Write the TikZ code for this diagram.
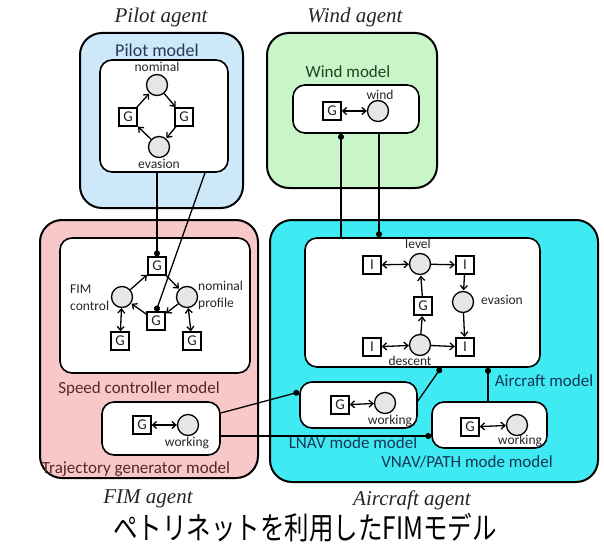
\documentclass[tikz,border=0pt]{standalone}
\usepackage{fontspec}
\setmainfont{Carlito}
\newfontfamily\titlefont{Liberation Serif}
\newfontfamily\jpfont{Noto Sans CJK JP}
\usetikzlibrary{arrows.meta}
\definecolor{pilotfill}{HTML}{CDE8F8}
\definecolor{windfill}{HTML}{C8F6C8}
\definecolor{fimfill}{HTML}{F8C8C8}
\definecolor{acfill}{HTML}{40EAF2}
\definecolor{pilottxt}{HTML}{243858}
\definecolor{windtxt}{HTML}{1F421F}
\definecolor{fimtxt}{HTML}{532828}
\definecolor{actxt}{HTML}{153655}
\definecolor{placefill}{HTML}{E6E6E6}
\begin{document}
\begin{tikzpicture}[x=1pt,y=-1pt,
  agentbox/.style={draw, line width=2pt, rounded corners=22pt, inner sep=0},
  modelbox/.style={draw, fill=white, line width=1.6pt, rounded corners=12pt, inner sep=0},
  place/.style={circle, draw, fill=placefill, minimum size=21pt, inner sep=0, line width=1.3pt},
  trans/.style={rectangle, draw, fill=white, minimum size=18pt, inner sep=0, line width=1.3pt, font=\fontsize{15}{15}\selectfont, text=black!85},
  arc/.style={line width=1.3pt, -{Straight Barb[length=4pt,width=7pt]}, shorten >=0.5pt},
  darc/.style={line width=1.3pt, {Straight Barb[length=4pt,width=7pt]}-{Straight Barb[length=4pt,width=7pt]}},
  link/.style={line width=1.3pt},
  dotend/.style={-{Circle[length=6pt]}},
  dotstart/.style={{Circle[length=6pt]}-},
  small/.style={font=\fontsize{13.5}{14}\selectfont, text=black!85, inner sep=0},
  model/.style={font=\fontsize{17}{18}\selectfont, inner sep=0},
  agent/.style={font=\titlefont\itshape\fontsize{21}{22}\selectfont, text=black!85, inner sep=0}]
\useasboundingbox (0,0) rectangle (604,548);
\fill[white] (0,0) rectangle (604,548);

% ---- agent boxes
\node[agentbox, fill=pilotfill, minimum width=163pt, minimum height=175pt] (pilotag) at (161.5,120.5) {};
\node[agentbox, fill=windfill, minimum width=170pt, minimum height=155pt] (windag) at (352,110.5) {};
\node[agentbox, fill=fimfill, minimum width=218pt, minimum height=258pt] (fimag) at (149,349) {};
\node[agentbox, fill=acfill, minimum width=328pt, minimum height=262pt] (acag) at (434,351) {};

% ---- model boxes
\node[modelbox, minimum width=128pt, minimum height=112pt] (pilotin) at (164,116) {};
\node[modelbox, minimum width=126pt, minimum height=48pt] (windin) at (356,109) {};
\node[modelbox, minimum width=190pt, minimum height=135pt] (speedin) at (155,305.5) {};
\node[modelbox, minimum width=118pt, minimum height=53pt] (trajin) at (161,428.5) {};
\node[modelbox, minimum width=235pt, minimum height=129pt] (acin) at (422.5,302.5) {};
\node[modelbox, minimum width=117pt, minimum height=46pt] (lnav) at (358.5,405) {};
\node[modelbox, minimum width=115pt, minimum height=46pt] (vnav) at (489.5,425) {};

% ---- titles
\node[agent] (tpilot) at (161,17) {Pilot agent};
\node[agent] (twind) at (355,17) {Wind agent};
\node[agent] (tfim) at (148,499) {FIM agent};
\node[agent] (tac) at (412,500) {Aircraft agent};
\node[inner sep=0, font=\jpfont\fontsize{31}{32}\selectfont] (tjp) at (305,528) {\scalebox{0.79}[1]{ペトリネットを利用したFIMモデル}};

\node[model, font=\fontsize{18}{19}\selectfont, text=pilottxt] (lpilot) at (157,50) {Pilot model};
\node[model, text=windtxt] (lwind) at (348,72) {Wind model};
\node[model, text=fimtxt] (lspeed) at (139,389) {Speed controller model};
\node[model, text=fimtxt] (ltraj) at (136,469) {Trajectory generator model};
\node[model, text=actxt] (lac) at (544,381) {Aircraft model};
\node[model, text=actxt] (llnav) at (353,443) {LNAV mode model};
\node[model, text=actxt] (lvnav) at (467,462) {VNAV/PATH mode model};

% ---- pilot model net
\node[place] (pnom) at (157,85) {};
\node[small] at (157,67) {nominal};
\node[place] (peva) at (159,147) {};
\node[small] at (159,164) {evasion};
\node[trans] (pgl) at (128,117) {G};
\node[trans] (pgr) at (184,117) {G};
\draw[arc] (pnom) -- (pgr);
\draw[arc] (pgr) -- (peva);
\draw[arc] (peva) -- (pgl);
\draw[arc] (pgl) -- (pnom);

% ---- wind model net
\node[trans] (wg) at (332,111) {G};
\node[place] (wp) at (378,111) {};
\node[small] at (380,95) {wind};
\draw[darc] (wg) -- (wp);

% ---- speed controller net
\node[trans] (sgt) at (157,266) {G};
\node[trans] (sgm) at (156,321) {G};
\node[trans] (sgl) at (120,341) {G};
\node[trans] (sgr) at (192,341) {G};
\node[place] (sfim) at (122,297) {};
\node[place] (snom) at (187,297) {};
\node[small, align=left, anchor=west] at (70,298) {FIM\\[3pt]control};
\node[small, align=left, anchor=west] at (198,295) {nominal\\[3pt]profile};
\draw[arc] (sfim) -- (sgt);
\draw[arc] (sgt) -- (snom);
\draw[arc] (snom) -- (sgm);
\draw[arc] (sgm) -- (sfim);
\draw[darc] (sfim) -- (sgl);
\draw[darc] (snom) -- (sgr);

% ---- trajectory generator net
\node[trans] (tg) at (142,425) {G};
\node[place] (tp) at (188,425) {};
\node[small] at (187,443) {working};
\draw[darc] (tg) -- (tp);

% ---- aircraft net
\node[place] (alev) at (420,264) {};
\node[small] at (418,244) {level};
\node[trans] (ail1) at (372,265) {I};
\node[trans] (air1) at (465,265) {I};
\node[trans] (ag) at (423,306) {G};
\node[place] (aeva) at (463,302) {};
\node[small] at (502,300) {evasion};
\node[place] (ades) at (420,345) {};
\node[small] at (410,361) {descent};
\node[trans] (ail2) at (372,347) {I};
\node[trans] (air2) at (465,347) {I};
\draw[darc] (ail1) -- (alev);
\draw[arc] (alev) -- (air1);
\draw[arc] (air1) -- (aeva);
\draw[arc] (aeva) -- (air2);
\draw[arc] (ades) -- (air2);
\draw[arc] (ades) -- (ag);
\draw[arc] (ag) -- (alev);
\draw[darc] (ail2) -- (ades);

% ---- LNAV / VNAV nets
\node[trans] (lg) at (340,405) {G};
\node[place] (lp) at (385,403) {};
\node[small] at (390,421) {working};
\draw[darc] (lg) -- (lp);
\node[trans] (vg) at (470,427) {G};
\node[place] (vp) at (517,425) {};
\node[small] at (520,441) {working};
\draw[darc] (vg) -- (vp);

% ---- inter-model links
\draw[link, dotend] (sgt |- pilotin.south) -- (sgt.north);
\draw[link, dotend] ([xshift=41pt]pilotin.south) -- (sgm.north);
\coordinate (wl) at (341,0);
\coordinate (wr) at (379,0);
\draw[link, dotstart] (wl |- windin.south) -- (wl |- acin.north);
\draw[link, dotend] (wr |- windin.south) -- (wr |- acin.north);
\coordinate (ab1) at (441,0);
\coordinate (ab2) at (488,0);
\coordinate (lr) at (0,401);
\draw[link, dotstart] (ab1 |- acin.south) -- (lnav.east |- lr);
\draw[link, dotstart] (ab2 |- acin.south) -- (ab2 |- vnav.north);
\coordinate (t1) at (0,413);
\coordinate (t2) at (0,436);
\draw[link, dotend] (trajin.east |- t1) -- (lnav.west |- 0,392);
\draw[link, dotend] (trajin.east |- t2) -- (vnav.west |- t2);
\end{tikzpicture}
\end{document}
